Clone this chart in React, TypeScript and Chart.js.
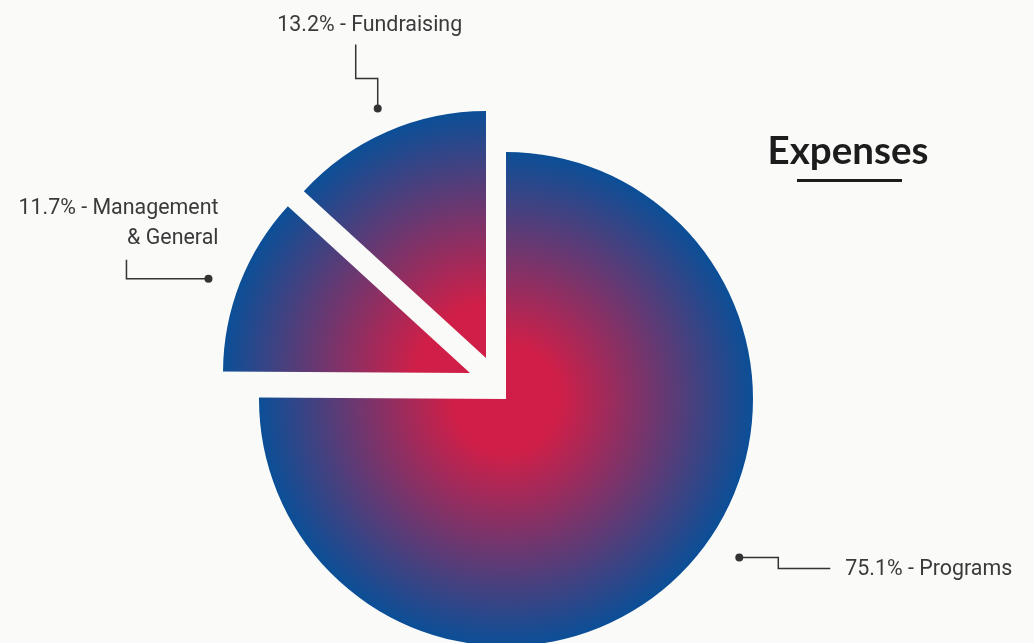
import React, { useEffect, useRef } from "react";
import { Chart, registerables } from "chart.js";

Chart.register(...registerables);

// ---- data ----
const categories = ["Programs", "Management", "Fundraising"];
const categorySecondLines = ["", "& General", ""];
const percentages = [75.1, 11.7, 13.2];
const chartTitle = "Expenses";

// ---- style ----
const BG = "#fafaf9";
const RED = "#cf1f48";
const BLUE = "#0b4f97";
const TEXT = "#3a3a3a";
const LINE = "#333333";
const RADIUS = 247;
const EXPLODE: [number, number][] = [
  [0, 0],
  [-36, -26],
  [-20, -41],
];
type Leader = {
  angleAdj: number;
  dist: number;
  path: [number, number][];
  tx: number;
  ty: number;
  align: CanvasTextAlign;
};
const LEADERS: Leader[] = [
  { angleAdj: -11, dist: 282, path: [[39, 0], [0, 11], [52, 0]], tx: 106, ty: 18, align: "left" },
  { angleAdj: -1.6, dist: 278, path: [[-82, 0], [0, -19]], tx: 10, ty: -65, align: "right" },
  { angleAdj: 0.3, dist: 272, path: [[0, -30], [-22, 0], [0, -34]], tx: -8, ty: -77, align: "center" },
];
const LABEL_FONT = "21.4px Roboto, 'Open Sans', sans-serif";
const TITLE_FONT = "bold 38.5px Lato, 'Open Sans', sans-serif";

const explodePlugin = {
  id: "explodeSlices",
  afterDatasetsUpdate(chart: any) {
    const meta = chart.getDatasetMeta(0);
    meta.data.forEach((arc: any, i: number) => {
      arc.x += EXPLODE[i][0];
      arc.y += EXPLODE[i][1];
    });
  },
};

const annotatePlugin = {
  id: "annotations",
  afterDraw(chart: any) {
    const ctx: CanvasRenderingContext2D = chart.ctx;
    const meta = chart.getDatasetMeta(0);
    ctx.save();
    meta.data.forEach((arc: any, i: number) => {
      const L = LEADERS[i];
      const mid = (arc.startAngle + arc.endAngle) / 2 + (L.angleAdj * Math.PI) / 180;
      const dx = arc.x + Math.cos(mid) * L.dist;
      const dy = arc.y + Math.sin(mid) * L.dist;
      // leader line
      ctx.strokeStyle = LINE;
      ctx.lineWidth = 1.5;
      ctx.beginPath();
      let px = dx;
      let py = dy;
      ctx.moveTo(px, py);
      L.path.forEach(([sx, sy]) => {
        px += sx;
        py += sy;
        ctx.lineTo(px, py);
      });
      ctx.stroke();
      // dot
      ctx.fillStyle = LINE;
      ctx.beginPath();
      ctx.arc(dx, dy, 4, 0, Math.PI * 2);
      ctx.fill();
      // text
      ctx.fillStyle = TEXT;
      ctx.font = LABEL_FONT;
      ctx.textAlign = L.align;
      ctx.textBaseline = "alphabetic";
      const lines = [`${percentages[i].toFixed(1)}% - ${categories[i]}`];
      if (categorySecondLines[i]) lines.push(categorySecondLines[i]);
      lines.forEach((t, k) => ctx.fillText(t, dx + L.tx, dy + L.ty + k * 30));
    });
    // title
    ctx.fillStyle = "#1c1c1c";
    ctx.font = TITLE_FONT;
    ctx.textAlign = "center";
    ctx.fillText(chartTitle, 848, 164);
    ctx.fillRect(797, 179, 105, 3);
    ctx.restore();
  },
};

export default function App() {
  const ref = useRef<HTMLCanvasElement | null>(null);
  useEffect(() => {
    document.body.style.margin = "0";
    document.body.style.background = BG;
    const canvas = ref.current;
    if (!canvas) return;
    const chart = new Chart(canvas, {
      type: "pie",
      data: {
        labels: categories.map((c, i) => (categorySecondLines[i] ? `${c} ${categorySecondLines[i]}` : c)),
        datasets: [
          {
            data: percentages,
            borderWidth: 0,
            backgroundColor: (c: any) => {
              const area = c.chart.chartArea;
              if (!area || c.dataIndex === undefined) return BLUE;
              const i = c.dataIndex;
              const cx = (area.left + area.right) / 2 + EXPLODE[i][0];
              const cy = (area.top + area.bottom) / 2 + EXPLODE[i][1];
              const g = c.chart.ctx.createRadialGradient(cx, cy, 0, cx, cy, RADIUS);
              g.addColorStop(0, RED);
              g.addColorStop(0.22, RED);
              g.addColorStop(1, BLUE);
              return g;
            },
          },
        ],
      },
      options: {
        responsive: false,
        maintainAspectRatio: false,
        animation: false,
        events: [],
        radius: RADIUS,
        layout: { padding: { left: 0, right: 22, top: 155, bottom: 0 } },
        plugins: {
          legend: { display: false },
          tooltip: { enabled: false },
          title: { display: false },
        },
      } as any,
      plugins: [explodePlugin, annotatePlugin],
    });
    return () => chart.destroy();
  }, []);
  return (
    <div style={{ position: "fixed", left: 0, top: 0, width: 1034, height: 643, background: BG, overflow: "hidden" }}>
      <canvas ref={ref} width={1034} height={643} style={{ width: 1034, height: 643, display: "block" }} />
    </div>
  );
}
